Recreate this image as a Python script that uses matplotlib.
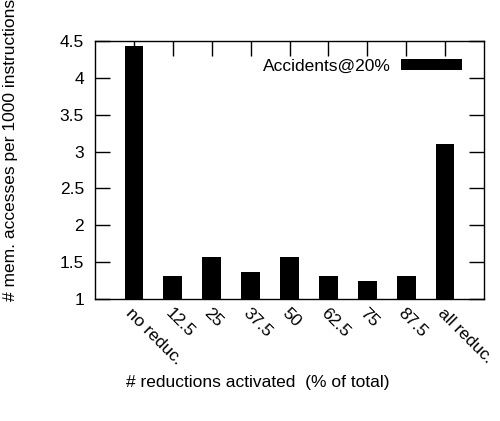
import numpy as np
import matplotlib
matplotlib.use("Agg")
import matplotlib.pyplot as plt
import matplotlib.transforms as mtransforms

plt.rcParams['font.family'] = ['Liberation Sans', 'DejaVu Sans']

labels = ["no reduc.", "12.5", "25", "37.5", "50", "62.5", "75", "87.5", "all reduc."]
values = [4.43, 1.31, 1.57, 1.37, 1.57, 1.31, 1.24, 1.31, 3.10]
series_name = "Accidents@20%"
yticks = [1, 1.5, 2, 2.5, 3, 3.5, 4, 4.5]
ytick_labels = ["1", "1.5", "2", "2.5", "3", "3.5", "4", "4.5"]

fs = 12.5
fig = plt.figure(figsize=(5, 4.21), dpi=100)
ax = fig.add_axes([0.19, 0.29, 0.778, 0.6126])

x = np.arange(len(labels))
ax.bar(x, values, width=0.48, color='black', bottom=0, label=series_name)

ax.set_xlim(-1, len(labels))
ax.set_ylim(1, 4.5)
ax.set_yticks(yticks)
ax.set_yticklabels(ytick_labels, fontsize=fs)
ax.set_xticks(x)
ax.set_xticklabels(labels, fontsize=fs, rotation=-45, ha='left', va='top',
                   rotation_mode='anchor')
# nudge rotated labels a little to the right, like gnuplot
shift = mtransforms.ScaledTranslation(4/100, 0, fig.dpi_scale_trans)
for t in ax.get_xticklabels():
    t.set_transform(t.get_transform() + shift)

ax.tick_params(direction='in', length=10.5, width=1, top=True, right=True,
               color='black')
ax.tick_params(axis='y', pad=8)
ax.tick_params(axis='x', pad=5)
for s in ax.spines.values():
    s.set_linewidth(1)

ax.legend(loc='center right', bbox_to_anchor=(0.943, 0.903), frameon=False,
          markerfirst=False, handlelength=3.5, handleheight=0.55,
          handletextpad=0.6, borderpad=0, borderaxespad=0, fontsize=fs)

fig.text(258/500, 1 - 382/421, "# reductions activated  (% of total)",
         ha='center', va='center', fontsize=fs)
fig.text(11/500, 1 - 150/421, "# mem. accesses per 1000 instructions",
         ha='center', va='center', rotation=90, fontsize=fs)

fig.savefig("out.png", dpi=100)
